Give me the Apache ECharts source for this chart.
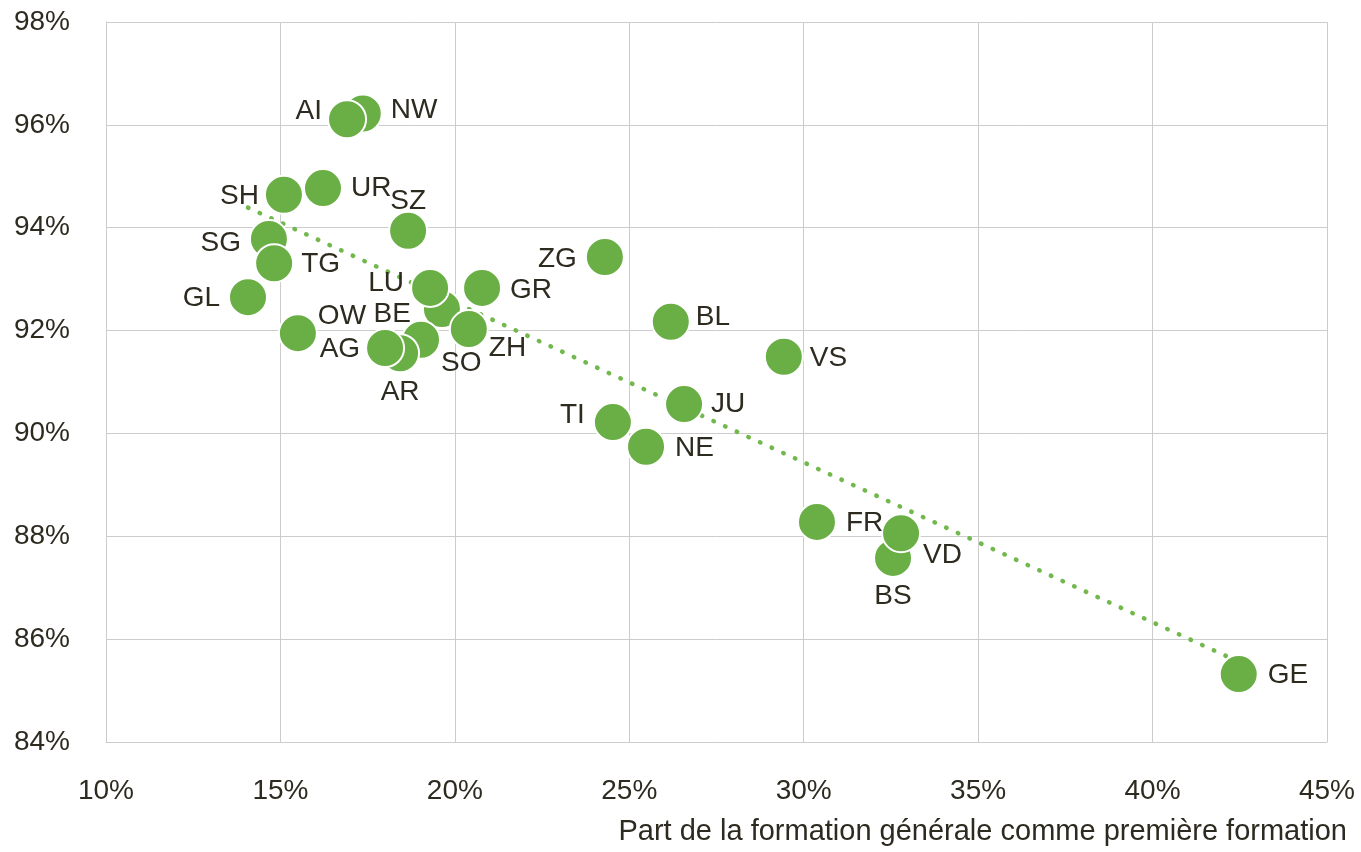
<!DOCTYPE html>
<html>
<head>
<meta charset="utf-8">
<script src="https://cdn.jsdelivr.net/npm/echarts@6/dist/echarts.min.js"></script>
<style>
  html, body { margin: 0; padding: 0; background: #fff; }
  #chart { width: 1361px; height: 852px; }
</style>
</head>
<body>
<div id="chart"></div>
<script>
// cantons, in drawing order (later ones lie on top)
const cantons = ["NW", "AI", "SH", "UR", "SZ", "SG", "TG", "GL", "OW", "BE", "LU", "GR", "ZH", "SO", "AR", "AG", "ZG", "BL", "VS", "JU", "TI", "NE", "FR", "BS", "VD", "GE"];
// part de la formation générale (%)
const share = [17.36, 16.91, 15.10, 16.22, 18.66, 14.67, 14.82, 14.07, 15.50, 19.63, 19.29, 20.78, 20.40, 19.03, 18.43, 18.00, 24.30, 26.19, 29.43, 26.57, 24.53, 25.48, 30.38, 32.56, 32.79, 42.47];
// taux (%)
const rate = [96.22, 96.11, 94.64, 94.77, 93.94, 93.78, 93.31, 92.65, 91.95, 92.42, 92.83, 92.83, 92.03, 91.82, 91.56, 91.66, 93.43, 92.17, 91.49, 90.57, 90.22, 89.74, 88.28, 87.58, 88.06, 85.32];
// droite de tendance
const trendX = [14.07, 42.47];
const trendY = [94.39, 85.56];

const xTicks = [10, 15, 20, 25, 30, 35, 40, 45];
const yTicks = [84, 86, 88, 90, 92, 94, 96, 98];

// label placement: [position, distance, dx, dy]
const labelPlace = {
  NW: ["right", 8, 0, -3], AI: ["left", 5, 0, -8], SH: ["left", 5, 0, 1],
  UR: ["right", 8, 0, 0], SZ: ["top", 2, 0, 6], SG: ["left", 8, 0, 4],
  TG: ["right", 7, 0, 1], GL: ["left", 8, 0, 1], OW: ["right", 0, 0, -17],
  BE: ["left", 11, 0, 5], LU: ["left", 6, 0, -5], GR: ["right", 8, 0, 2],
  ZH: ["right", 0, 0, 19], SO: ["right", 0, 0, 23], AR: ["bottom", 5, 0, 0],
  AG: ["left", 5, 0, 1], ZG: ["left", 8, 0, 2], BL: ["right", 5, 0, -5],
  VS: ["right", 6, 0, 1], JU: ["right", 7, 0, 0], TI: ["left", 8, 0, -7],
  NE: ["right", 9, 0, 1], FR: ["right", 9, 0, 1], BS: ["bottom", 4, 0, 0],
  VD: ["right", 2, 0, 22], GE: ["right", 9, 0, 1]
};

const green = "#6aaf45";
const ink = "#2d2a1f";
const font = "'Liberation Sans', Arial, sans-serif";

const points = cantons.map(function (c, i) {
  const p = labelPlace[c];
  return {
    name: c,
    value: [share[i], rate[i]],
    label: { position: p[0], distance: p[1], offset: [p[2], p[3]] }
  };
});

const chart = echarts.init(document.getElementById("chart"));
chart.setOption({
  animation: false,
  backgroundColor: "#fff",
  textStyle: { fontFamily: font, color: ink },
  grid: { left: 106, right: 34, top: 22, bottom: 110, containLabel: false },
  title: {
    text: "Part de la formation générale comme première formation",
    right: 9,
    bottom: 1,
    textStyle: { fontFamily: font, fontSize: 29, fontWeight: "normal", color: ink }
  },
  xAxis: {
    type: "value",
    min: xTicks[0],
    max: xTicks[xTicks.length - 1],
    interval: 5,
    axisLine: { show: true, lineStyle: { color: "#cccccc", width: 1 } },
    axisTick: { show: false },
    axisLabel: { formatter: "{value}%", fontSize: 28, color: ink, margin: 35, fontFamily: font },
    splitLine: { show: true, lineStyle: { color: "#cccccc", width: 1 } }
  },
  yAxis: {
    type: "value",
    min: yTicks[0],
    max: yTicks[yTicks.length - 1],
    interval: 2,
    axisLine: { show: true, lineStyle: { color: "#cccccc", width: 1 } },
    axisTick: { show: false },
    axisLabel: { formatter: "{value}%", fontSize: 28, color: ink, margin: 36, fontFamily: font },
    splitLine: { show: true, lineStyle: { color: "#cccccc", width: 1 } }
  },
  series: [
    {
      type: "line",
      data: trendX.map(function (x, i) { return [x, trendY[i]]; }),
      symbol: "none",
      silent: true,
      z: 1,
      lineStyle: { color: "#72b84c", width: 4.5, type: [0.5, 12.3], cap: "round" }
    },
    {
      type: "scatter",
      data: points,
      symbolSize: 38,
      z: 3,
      itemStyle: { color: green, opacity: 1, borderColor: "#ffffff", borderWidth: 2 },
      label: {
        show: true,
        formatter: "{b}",
        fontSize: 28,
        color: ink,
        fontFamily: font
      },
      emphasis: { disabled: true }
    }
  ]
});
</script>
</body>
</html>
